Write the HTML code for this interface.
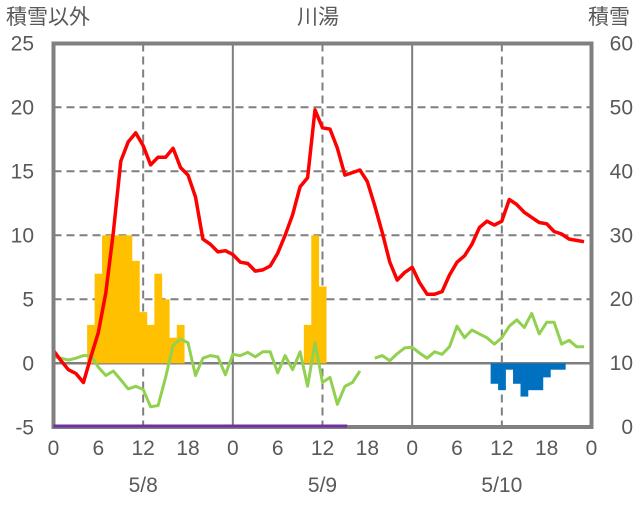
<!DOCTYPE html>
<html><head><meta charset="utf-8"><style>
body{margin:0;background:#fff;}
svg text{font-family:"Liberation Sans","Noto Sans CJK JP",sans-serif;fill:#595959;font-size:21px;}
</style></head><body>
<svg width="636" height="501" viewBox="0 0 636 501">
<g id="grid"></g>
<g id="bars"></g>
<g id="lines"></g>
<g id="frame"></g>
<g id="labels"></g>
<text x="6" y="24">積雪以外</text>
<text x="318" y="24" text-anchor="middle">川湯</text>
<text x="630" y="24" text-anchor="end">積雪</text>
</svg>
<script>
const temp=[1.0,0.2,-0.5,-0.8,-1.5,0.5,2.4,5.5,10.2,15.8,17.3,18,17,15.5,16.1,16.1,16.8,15.3,14.7,13,9.7,9.3,8.7,8.8,8.5,7.9,7.8,7.2,7.3,7.6,8.6,10,11.6,13.8,14.5,19.8,18.4,18.3,16.8,14.7,14.9,15.1,14.2,12.3,10.2,7.9,6.5,7.1,7.5,6.3,5.4,5.4,5.6,6.9,7.9,8.4,9.3,10.6,11.1,10.8,11.1,12.8,12.4,11.8,11.4,11.0,10.9,10.3,10.1,9.7,9.6,9.5];
const wind=[0.5,0.4,0.25,0.4,0.6,0.6,-0.3,-0.95,-0.6,-1.3,-2.0,-1.8,-2.05,-3.4,-3.3,-1.1,1.4,1.9,1.6,-0.95,0.4,0.6,0.5,-0.9,0.7,0.6,0.85,0.5,0.9,0.9,-0.75,0.6,-0.5,0.9,-1.8,1.6,-1.5,-1.1,-3.2,-1.8,-1.5,-0.6,null,0.4,0.6,0.2,0.75,1.2,1.25,0.8,0.4,0.9,0.7,1.3,2.9,2.0,2.6,2.3,2.0,1.5,2.0,2.9,3.4,2.8,3.9,2.3,3.2,3.2,1.5,1.8,1.3,1.3];
const precipHours=[5,6,7,8,9,10,11,12,13,14,15,16,17,34,35,36];
const precipValues=[3,7,10,10,10,10,8,4,3,7,5,2,3,3,10,6];
const meltHours=[59,60,61,62,63,64,65,66,67,68];
const meltValues=[-1.6,-2.1,-0.5,-1.6,-2.6,-2.1,-2.1,-1.1,-0.5,-0.5];
const snowHours=[0,39.3];
const snowValues=[0,0];
const leftTicks=[25,20,15,10,5,0,-5];
const rightTicks=[60,50,40,30,20,10,0];
const hourTicks=[0,6,12,18,0,6,12,18,0,6,12,18,0];
const dateLabels=["5/8","5/9","5/10"];
const NS="http://www.w3.org/2000/svg";
const X0=53.5,X1=591.5,Y0=43.5,Y1=427;
const xs=h=>X0+h*(X1-X0)/72;
const yL=v=>363.3-v*12.8;
const yR=v=>Y1-v*(Y1-Y0)/60;
function mk(tag,attrs,parent){const e=document.createElementNS(NS,tag);for(const k in attrs)e.setAttribute(k,attrs[k]);document.getElementById(parent).appendChild(e);return e;}
[5,10,15,20].forEach(v=>{const e=mk('line',{x1:X0,x2:X1,y1:yL(v),y2:yL(v),stroke:'#7f7f7f','stroke-width':2,'stroke-dasharray':'8,5'},'grid');

});
[12,36,60].forEach(h=>{const e=mk('line',{x1:xs(h),x2:xs(h),y1:Y0,y2:Y1,stroke:'#7f7f7f','stroke-width':2,'stroke-dasharray':'8,5'},'grid');

});
[24,48].forEach(h=>{const e=mk('line',{x1:xs(h),x2:xs(h),y1:Y0,y2:Y1,stroke:'#7f7f7f','stroke-width':2},'grid');

});
const zl=mk('line',{x1:X0,x2:X1,y1:yL(0),y2:yL(0),stroke:'#7f7f7f','stroke-width':2.5},'grid');


const bw=(X1-X0)/72;
precipHours.forEach((h,i)=>{const v=precipValues[i];const e=mk('rect',{x:xs(h)-bw/2,y:yL(v),width:bw+0.3,height:yL(0)-yL(v),fill:'#ffc000'},'bars');

});
meltHours.forEach((h,i)=>{const v=meltValues[i];const e=mk('rect',{x:xs(h)-bw/2,y:yL(0),width:bw+0.3,height:yL(v)-yL(0),fill:'#0070c0'},'bars');

});
function path(arr){let d='',pen=false;arr.forEach((v,i)=>{if(v===null){pen=false;return;}d+=(pen?'L':'M')+xs(i).toFixed(1)+','+yL(v).toFixed(1);pen=true;});return d;}
const gw=mk('path',{d:path(wind),fill:'none',stroke:'#92d050','stroke-width':3,'stroke-linejoin':'round'},'lines');


const rt=mk('path',{d:path(temp),fill:'none',stroke:'#ff0000','stroke-width':3.5,'stroke-linejoin':'round'},'lines');


const fr=mk('path',{d:`M${X0},${Y1}V${Y0}H${X1}V${Y1}Z`,fill:'none',stroke:'#808080','stroke-width':4},'frame');


const sl=mk('line',{x1:xs(snowHours[0]),x2:xs(snowHours[1]),y1:yR(snowValues[0])-1,y2:yR(snowValues[1])-1,stroke:'#7030a0','stroke-width':3},'frame');


leftTicks.forEach(v=>{const t=mk('text',{x:34,y:yL(v)+7,'text-anchor':'end'},'labels');t.textContent=v;

});
rightTicks.forEach(v=>{const t=mk('text',{x:633,y:yR(v)+7,'text-anchor':'end'},'labels');t.textContent=v;

});
hourTicks.forEach((v,i)=>{const t=mk('text',{x:xs(i*6),y:455,'text-anchor':'middle'},'labels');t.textContent=v;

});
dateLabels.forEach((d,i)=>{const t=mk('text',{x:xs(12+i*24),y:492,'text-anchor':'middle'},'labels');t.textContent=d;

});
</script>
</body></html>
